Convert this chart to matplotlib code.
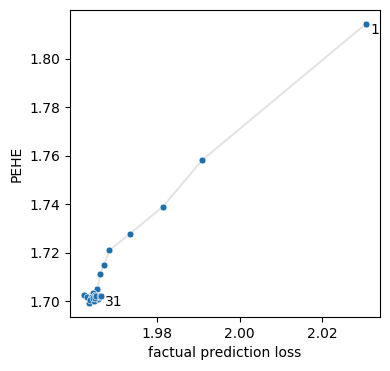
import numpy as np
from matplotlib import pyplot as plt

# factual loss vs PEHE, one point per step (1..31)
loss = [2.0306, 1.9910, 1.9814, 1.9735, 1.9684, 1.9671, 1.9662,
        1.9655, 1.9645, 1.9623, 1.9629, 1.9640, 1.9648, 1.9636,
        1.9652, 1.9645, 1.9658, 1.9650, 1.9642, 1.9638, 1.9654,
        1.9647, 1.9660, 1.9651, 1.9644, 1.9656, 1.9649, 1.9659,
        1.9653, 1.9661, 1.9663]
pehe = [1.8144, 1.7583, 1.7390, 1.7279, 1.7209, 1.7148, 1.7110,
        1.7049, 1.7033, 1.7026, 1.7016, 1.7012, 1.7020, 1.6992,
        1.7004, 1.7008, 1.7015, 1.7024, 1.7018, 1.7006, 1.7010,
        1.7000, 1.7020, 1.7016, 1.7012, 1.7008, 1.7014, 1.7017,
        1.7019, 1.7021, 1.7020]
labels = {0: "1", 30: "31"}

fig, ax = plt.subplots(figsize=(3.9, 3.71), dpi=100)
fig.subplots_adjust(left=0.1795, right=0.974, top=0.973, bottom=0.1456)

ax.plot(loss, pehe, color="lightgray", alpha=0.6, lw=1.5, zorder=1)
ax.scatter(loss, pehe, s=24, color="#1f6fad", edgecolor="white",
           linewidth=0.4, zorder=2)

for i, txt in labels.items():
    ax.annotate(txt, (loss[i], pehe[i]), xytext=(3, -4),
                textcoords="offset points", va="center", fontsize=10)

ax.set_xticks([1.98, 2.00, 2.02])
ax.set_yticks(np.arange(1.70, 1.801, 0.02))
ax.set_xlabel("factual prediction loss")
ax.set_ylabel("PEHE")

fig.savefig("out.png")
